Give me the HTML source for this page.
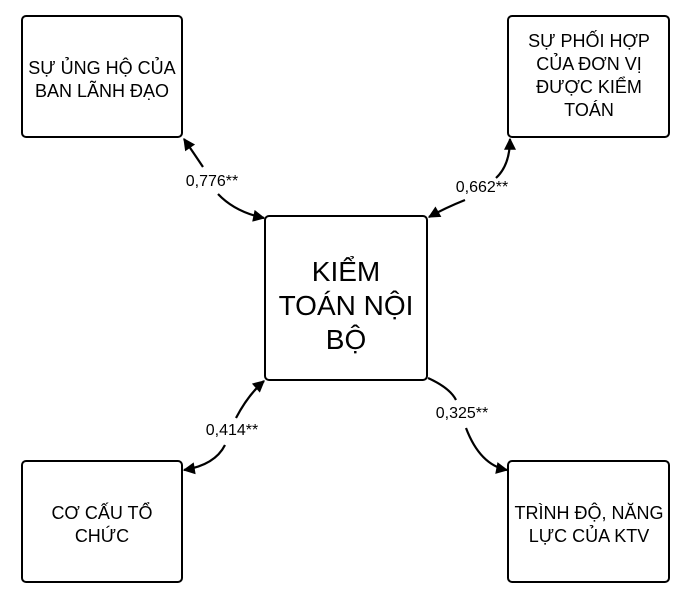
<!DOCTYPE html>
<html><head><meta charset="utf-8"><style>
body{margin:0;background:#fff;}
svg{display:block;}
text{font-family:"Liberation Sans",sans-serif;fill:#000;}
</style></head><body>
<svg width="697" height="608" viewBox="0 0 697 608" xmlns="http://www.w3.org/2000/svg">
<defs>
<marker id="a" viewBox="0 0 10 10" refX="9" refY="5" markerWidth="14" markerHeight="12" orient="auto-start-reverse" markerUnits="userSpaceOnUse">
<path d="M0,0 L10,5 L0,10 z" fill="#000"/></marker>
</defs>
<g fill="#fff" stroke="#000" stroke-width="2">
<rect x="22" y="16" width="160" height="121" rx="4"/>
<rect x="508" y="16" width="161" height="121" rx="4"/>
<rect x="265" y="216" width="162" height="164" rx="4"/>
<rect x="22" y="461" width="160" height="121" rx="4"/>
<rect x="508" y="461" width="161" height="121" rx="4"/>
</g>
<g fill="none" stroke="#000" stroke-width="2.2">
<path d="M184,139 Q195,155 203,167" marker-start="url(#a)" />
<path d="M218,194 Q235,212 264,218" marker-end="url(#a)" />
<path d="M510,139 Q510,165 496,178" marker-start="url(#a)"/>
<path d="M465,200 Q445,208 429,217" marker-end="url(#a)"/>
<path d="M264,381 Q248,395 236,418" marker-start="url(#a)"/>
<path d="M225,445 Q215,465 184,470" marker-end="url(#a)"/>
<path d="M428,378 Q450,388 456,400" />
<path d="M466,428 Q480,465 507,470" marker-end="url(#a)"/>
</g>
<g font-size="16" text-anchor="middle">
<text x="212" y="186">0,776**</text>
<text x="482" y="192">0,662**</text>
<text x="232" y="435">0,414**</text>
<text x="462" y="418">0,325**</text>
</g>
<g font-size="18" text-anchor="middle">
<text x="102" y="74">SỰ ỦNG HỘ CỦA</text>
<text x="102" y="97">BAN LÃNH ĐẠO</text>
<text x="589" y="47">SỰ PHỐI HỢP</text>
<text x="589" y="70">CỦA ĐƠN VỊ</text>
<text x="589" y="93">ĐƯỢC KIỂM</text>
<text x="589" y="116">TOÁN</text>
<text x="102" y="519">CƠ CẤU TỔ</text>
<text x="102" y="542">CHỨC</text>
<text x="589" y="519">TRÌNH ĐỘ, NĂNG</text>
<text x="589" y="542">LỰC CỦA KTV</text>
</g>
<g font-size="28" text-anchor="middle">
<text x="346" y="281">KIỂM</text>
<text x="346" y="315">TOÁN NỘI</text>
<text x="346" y="349">BỘ</text>
</g>
</svg>
</body></html>
